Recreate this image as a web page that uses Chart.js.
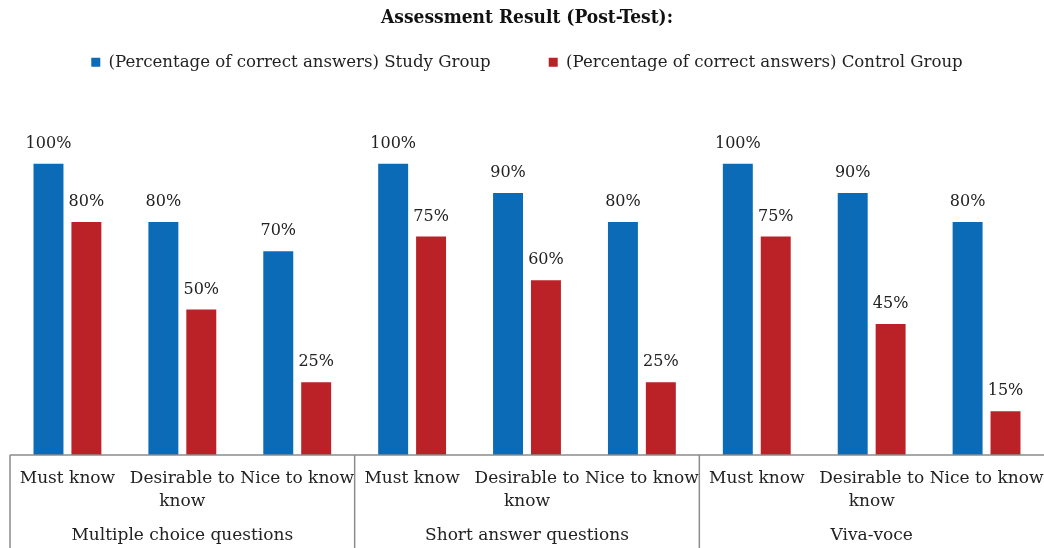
<!DOCTYPE html>
<html>
<head>
<meta charset="utf-8">
<script src="https://cdn.jsdelivr.net/npm/chart.js@4.4.1/dist/chart.umd.min.js"></script>
<style>
  html, body { margin: 0; padding: 0; background: #ffffff; }
  .chart-container { position: relative; width: 1044px; height: 548px; }
</style>
</head>
<body>
<div class="chart-container"><canvas id="chart"></canvas></div>
<script>
const categories = [
  'Must know', ['Desirable to', 'know'], 'Nice to know',
  'Must know', ['Desirable to', 'know'], 'Nice to know',
  'Must know', ['Desirable to', 'know'], 'Nice to know'
];
const groups = ['Multiple choice questions', 'Short answer questions', 'Viva-voce'];
const studyGroup = [100, 80, 70, 100, 90, 80, 100, 90, 80];
const controlGroup = [80, 50, 25, 75, 60, 25, 75, 45, 15];

const FONT = "'DejaVu Serif', 'Liberation Serif', serif";
const LINE = '#8c8c8c';

const valueLabels = {
  id: 'valueLabels',
  afterDatasetsDraw(chart) {
    const ctx = chart.ctx;
    ctx.save();
    ctx.font = '16px ' + FONT;
    ctx.fillStyle = '#222222';
    ctx.textAlign = 'center';
    ctx.textBaseline = 'middle';
    chart.data.datasets.forEach((ds, i) => {
      chart.getDatasetMeta(i).data.forEach((bar, j) => {
        ctx.fillText(ds.data[j] + '%', bar.x, bar.y - 20);
      });
    });
    ctx.restore();
  }
};

// box lines and group names under the category labels
const groupAxis = {
  id: 'groupAxis',
  afterDraw(chart) {
    const ctx = chart.ctx;
    const area = chart.chartArea;
    const x = chart.scales.x;
    const bottom = chart.height;
    ctx.save();
    ctx.strokeStyle = LINE;
    ctx.lineWidth = 1.5;
    ctx.beginPath();
    ctx.moveTo(area.left, area.bottom);
    ctx.lineTo(area.right, area.bottom);
    const edges = [area.left];
    for (let g = 1; g < groups.length; g++) {
      edges.push((x.getPixelForValue(g * 3 - 1) + x.getPixelForValue(g * 3)) / 2);
    }
    edges.push(area.right);
    edges.slice(0, -1).forEach(e => {
      ctx.moveTo(e, area.bottom);
      ctx.lineTo(e, bottom);
    });
    ctx.stroke();

    ctx.font = '17px ' + FONT;
    ctx.fillStyle = '#222222';
    ctx.textAlign = 'center';
    ctx.textBaseline = 'middle';
    groups.forEach((g, i) => {
      ctx.fillText(g, (edges[i] + edges[i + 1]) / 2, bottom - 12);
    });
    ctx.restore();
  }
};

new Chart(document.getElementById('chart').getContext('2d'), {
  type: 'bar',
  data: {
    labels: categories,
    datasets: [{
      label: '(Percentage of correct answers) Study Group',
      data: studyGroup,
      backgroundColor: '#0b6bb6',
      categoryPercentage: 0.66,
      barPercentage: 0.79
    }, {
      label: '(Percentage of correct answers) Control Group',
      data: controlGroup,
      backgroundColor: '#bb2228',
      categoryPercentage: 0.66,
      barPercentage: 0.79
    }]
  },
  options: {
    responsive: true,
    maintainAspectRatio: false,
    animation: false,
    layout: { padding: { left: 10, right: 0, top: 0, bottom: 0 } },
    scales: {
      y: {
        display: false,
        min: 0,
        max: 127.2
      },
      x: {
        grid: { display: false },
        border: { display: false },
        ticks: {
          color: '#222222',
          font: { family: FONT, size: 17, lineHeight: 1.3 },
          padding: 9,
          maxRotation: 0,
          autoSkip: false
        },
        afterFit(scale) {
          scale.height = 93;
          scale.paddingLeft = 0;
          scale.paddingRight = 0;
        }
      }
    },
    plugins: {
      title: {
        display: true,
        text: 'Assessment Result (Post-Test):',
        color: '#111111',
        font: { family: "'DejaVu Serif Condensed', 'Liberation Serif', serif", size: 19, weight: 'bold' },
        padding: { top: 7, bottom: -33.8 }
      },
      legend: {
        display: true,
        labels: {
          color: '#222222',
          font: { family: FONT, size: 16.6 },
          boxWidth: 9,
          boxHeight: 9,
          padding: 58
        }
      },
      tooltip: { enabled: false }
    }
  },
  plugins: [valueLabels, groupAxis]
});
</script>
</body>
</html>
